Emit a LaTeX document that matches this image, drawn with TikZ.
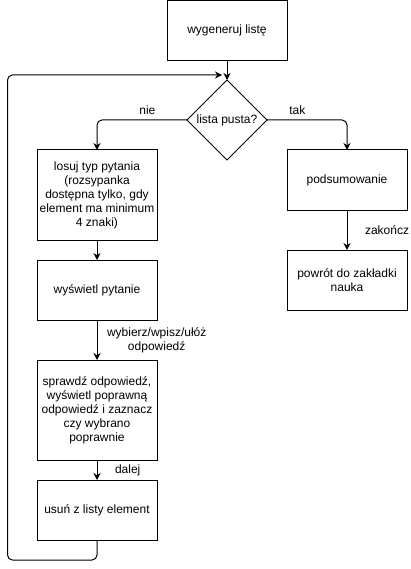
\documentclass[tikz,border=0pt]{standalone}
\usepackage{fontspec}
\setmainfont{Liberation Sans}
\usetikzlibrary{arrows.meta,positioning,shapes.geometric}

\begin{document}
\begin{tikzpicture}[
    x=1pt, y=1pt,
    every node/.style={font=\fontsize{12}{14}\selectfont, outer sep=0pt},
    box/.style={draw, line width=1pt, align=center, minimum width=120pt, minimum height=60pt, inner sep=2pt},
    decbox/.style={draw, line width=1pt, diamond, minimum width=80pt, minimum height=80pt, inner sep=0pt},
    arr/.style={-{Stealth[length=7pt,width=7pt]}, line width=1pt, rounded corners=5pt},
    lbl/.style={inner sep=0pt, align=center}
]
\useasboundingbox (0,0) rectangle (410,-569);

\node[box] (gen) at (227,-30.5) {wygeneruj listę};
\node[decbox, below=19.5pt of gen] (empty) {lista pusta?};
\node[box, minimum height=90pt, below=30pt of empty.west, xshift=-90pt] (draw) {losuj typ pytania\\(rozsypanka\\dostępna tylko, gdy\\element ma minimum\\4 znaki)};
\node[box, below=20pt of draw] (show) {wyświetl pytanie};
\node[box, minimum height=100pt, below=40pt of show] (check) {sprawdź odpowiedź,\\wyświetl poprawną\\odpowiedź i zaznacz\\czy wybrano\\poprawnie};
\node[box, below=20pt of check] (remove) {usuń z listy element};
\node[box, below=30pt of empty.east, xshift=80pt] (summary) {podsumowanie};
\node[box, below=40pt of summary] (back) {powrót do zakładki\\nauka};

\coordinate (loop) at ([xshift=-5pt,yshift=5pt]empty.north);

\draw[arr] (gen) -- (empty);
\draw[arr] (empty.west) -| node[lbl, pos=0.22, above=5pt] {nie} (draw);
\draw[arr] (empty.east) -| node[lbl, pos=0.19, above=5pt] {tak} (summary);
\draw[arr] (summary) -- node[lbl, right=18pt] {zakończ} (back);
\draw[arr] (draw) -- (show);
\draw[arr] (show) -- node[lbl, right=10pt] {wybierz/wpisz/ułóż\\odpowiedź} (check);
\draw[arr] (check) -- node[lbl, right=18pt] {dalej} (remove);
\draw[arr] (remove.south) -- ++(0,-20) -- (7.5,-560) -- (7.5,-75) -- (loop);
\end{tikzpicture}
\end{document}
